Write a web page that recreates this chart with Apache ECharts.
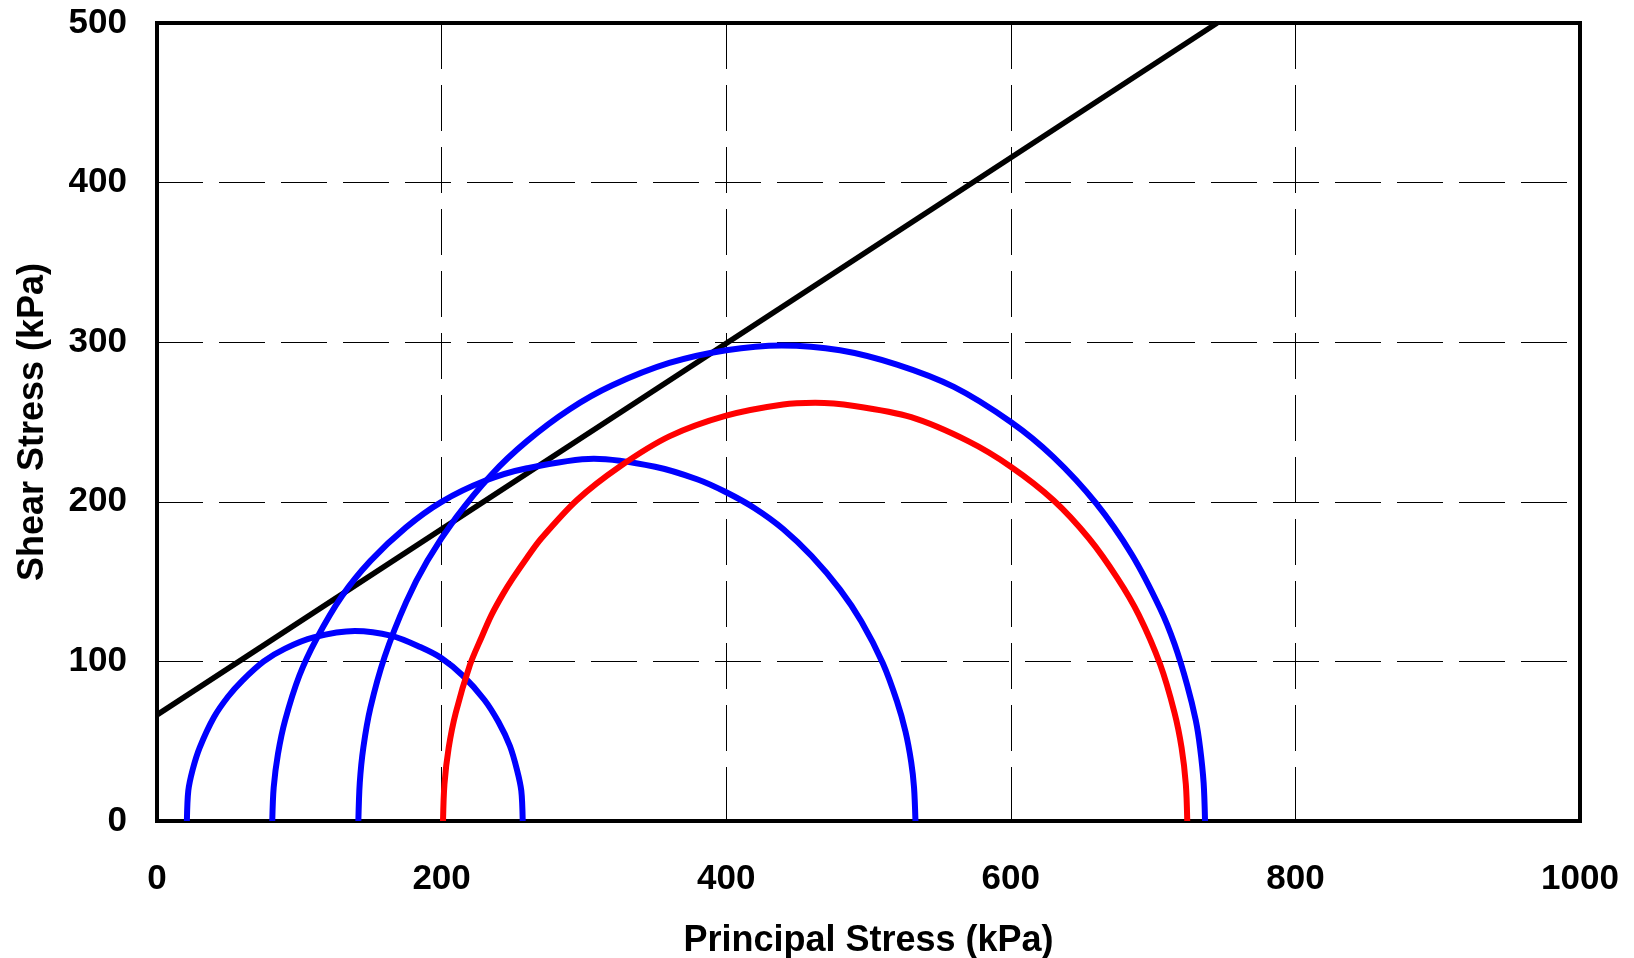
<!DOCTYPE html>
<html>
<head>
<meta charset="utf-8">
<script src="https://cdn.jsdelivr.net/npm/echarts@6/dist/echarts.min.js"></script>
<style>
  html, body { margin: 0; padding: 0; background: #ffffff; }
  #chart { width: 1634px; height: 958px; }
</style>
</head>
<body>
<div id="chart"></div>
<script>
// Mohr circles (principal stress vs shear stress, kPa) and the failure envelope.
const circleA = [[21,0],[22,19],[25,32],[30,46],[40,65],[50,78],[60,88],[75,100],[90,108],[110,115],[139,119],
  [165,116],[185,109],[200,102],[215,91],[230,76],[240,62],[248,47],[253,32],[256,19],[257,0]];

const circleB = [[81,0],[82,21],[85,42],[90,63],[100,91],[112,114],[130,141],[150,163],[175,184],[200,200],
  [230,213],[260,221],[307,227],[350,222],[380,214],[400,206],[420,196],[440,183],[460,166],[480,145],
  [495,125],[510,99],[520,75],[526,56],[530,37],[532,21],[533,0]];

const circleC = [[141.5,0],[142.5,24],[145,46],[150,71],[160,103],[175,137],[190,163],[210,190],[235,217],
  [260,238],[290,258],[320,273],[360,287],[400,295],[439,298],[480,295],[520,286],[560,272],[600,250],
  [630,228],[660,199],[685,167],[705,133],[715,111],[724,85],[730,63],[733,46],[735.5,24],[736.5,0]];

const circleRed = [[201,0],[202,23],[205,46],[210,68],[220,98],[228,115],[235,129],[243,142],[250,152],
  [260,165],[270,177],[295,201],[325,222],[360,241],[400,254],[440,261],[462.5,262],[490,260],[530,253],
  [570,238],[600,222],[630,201],[655,177],[675,152],[690,129],[705,98],[715,68],[720,46],[723,23],[724,0]];

const envelope = [[0,66.5],[745,500]];

const xTicks = [0, 200, 400, 600, 800, 1000];
const yTicks = [0, 100, 200, 300, 400, 500];

const FONT = '"Liberation Sans", Arial, Helvetica, sans-serif';

const chart = echarts.init(document.getElementById('chart'), null, { renderer: 'canvas' });

function curve(data, color, width) {
  return {
    type: 'line',
    data: data,
    symbol: 'none',
    showSymbol: false,
    smooth: 0.3,
    smoothMonotone: 'none',
    clip: true,
    lineStyle: { color: color, width: width, cap: 'butt', join: 'round' },
    emphasis: { disabled: true }
  };
}

chart.setOption({
  animation: false,
  backgroundColor: '#ffffff',
  grid: {
    left: 157, top: 23, right: 54, bottom: 137,
    containLabel: false,
    outerBoundsMode: 'none',
    show: true, borderColor: '#000000', borderWidth: 4, backgroundColor: 'transparent'
  },
  xAxis: {
    type: 'value',
    min: xTicks[0], max: xTicks[xTicks.length - 1], interval: xTicks[1] - xTicks[0],
    name: 'Principal Stress (kPa)',
    nameLocation: 'middle',
    nameGap: 102,
    nameTextStyle: { fontSize: 36, fontWeight: 'bold', color: '#000', fontFamily: FONT },
    axisLine: { show: false },
    axisTick: { show: true, inside: true, length: 10, lineStyle: { color: '#000', width: 1 } },
    axisLabel: { fontSize: 35, fontWeight: 'bold', color: '#000', margin: 41, fontFamily: FONT,
      formatter: v => String(v) },
    splitLine: { show: true, lineStyle: { color: '#000', width: 1, type: [46, 16] } }
  },
  yAxis: {
    type: 'value',
    min: yTicks[0], max: yTicks[yTicks.length - 1], interval: yTicks[1] - yTicks[0],
    name: 'Shear Stress (kPa)',
    nameLocation: 'middle',
    nameGap: 106,
    nameTextStyle: { fontSize: 36, fontWeight: 'bold', color: '#000', fontFamily: FONT },
    axisLine: { show: false },
    axisTick: { show: true, inside: true, length: 10, lineStyle: { color: '#000', width: 1 } },
    axisLabel: { fontSize: 35, fontWeight: 'bold', color: '#000', margin: 30, fontFamily: FONT,
      formatter: v => String(v) },
    splitLine: { show: true, lineStyle: { color: '#000', width: 1, type: [46, 16] } }
  },
  series: [
    curve(envelope, '#000000', 5.5),
    curve(circleA, '#0000ff', 6),
    curve(circleB, '#0000ff', 6),
    curve(circleC, '#0000ff', 6),
    curve(circleRed, '#ff0000', 6)
  ]
});
</script>
</body>
</html>
